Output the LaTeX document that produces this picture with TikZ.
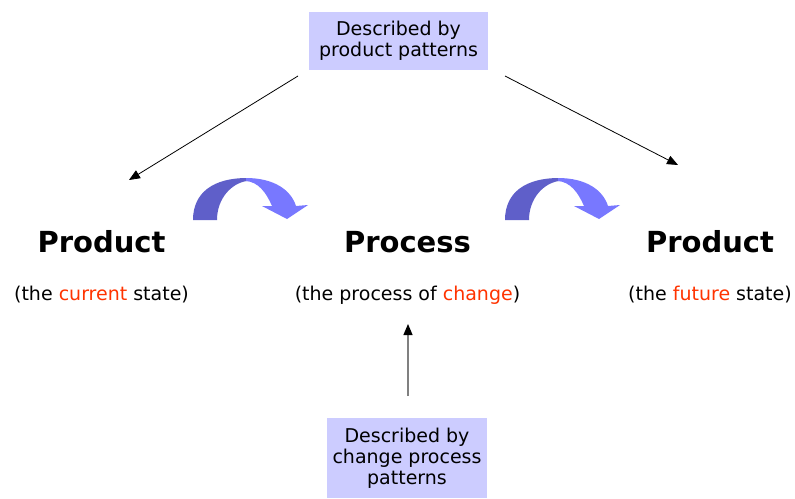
\documentclass[tikz,border=0pt]{standalone}
\usepackage{fontspec}
\setmainfont{DejaVu Sans}
\usepackage{xcolor}
\usetikzlibrary{arrows.meta}
\definecolor{boxfill}{HTML}{CCCCFF}
\definecolor{hotword}{HTML}{FF3300}
\definecolor{turndark}{HTML}{5F5FC9}
\definecolor{turnlight}{HTML}{7878FF}
\tikzset{
  pattbox/.style  = { fill=boxfill, align=center, inner sep=0pt, font=\fontsize{19}{21}\selectfont },
  stage/.style    = { anchor=base, inner sep=0pt, font=\fontsize{29}{32}\selectfont\bfseries },
  state/.style    = { anchor=base, inner sep=0pt, font=\fontsize{19}{22}\selectfont },
  link/.style     = { -{Triangle[length=11pt,width=9pt]}, line width=0.8pt },
  uplink/.style   = { -{Triangle[length=11pt,width=9pt,black]}, line width=1.2pt, gray },
  turnback/.style = { fill=turndark },
  turnfront/.style= { fill=turnlight }
}
\begin{document}
\begin{tikzpicture}[x=1pt,y=-1pt]
  \useasboundingbox (0,0) rectangle (795,498);
  % Draw pattern boxes
  \node[pattbox, minimum width=179pt, minimum height=58pt] (prodpatt) at (398.5,41) {Described by\\product patterns};
  \node[pattbox, minimum width=160pt, minimum height=80pt] (chgpatt) at (407,458) {Described by\\change process\\patterns};
  % Draw stages
  \node[stage] (current) at (101.5,252) {Product};
  \node[stage] (process) at (407.5,252) {Process};
  \node[stage] (future)  at (710,252)   {Product};
  \node[state] (currentlbl) at (101.5,300) {(the \textcolor{hotword}{current} state)};
  \node[state] (processlbl) at (407.5,300) {(the process of \textcolor{hotword}{change})};
  \node[state] (futurelbl)  at (710,300)   {(the \textcolor{hotword}{future} state)};
  % Draw connectors
  \coordinate (fromL) at (298,76);
  \coordinate (tipL)  at (129,180);
  \coordinate (fromR) at (505,76);
  \coordinate (tipR)  at (678,165);
  \coordinate (fromB) at (408,396);
  \coordinate (tipB)  at (408,324);
  \draw[link] (fromL) -- (tipL);
  \draw[link] (fromR) -- (tipR);
  \draw[uplink] (fromB) -- (tipB);
  % Draw curved arrows
  \foreach \dx in {0,312}{
    \begin{scope}[xshift=\dx pt]
      \fill[turnback] (193,220) .. controls (193,192) and (214,178) .. (247,178) -- (247,181) .. controls (232,183) and (217,198) .. (217,220) -- cycle;
      \fill[turnfront] (246,178) .. controls (274,178) and (291,190) .. (296,206) -- (308,205) -- (287,219) -- (262,206) -- (272,206) .. controls (266,192) and (258,182) .. (246,181) -- cycle;
    \end{scope}
  }
\end{tikzpicture}
\end{document}
